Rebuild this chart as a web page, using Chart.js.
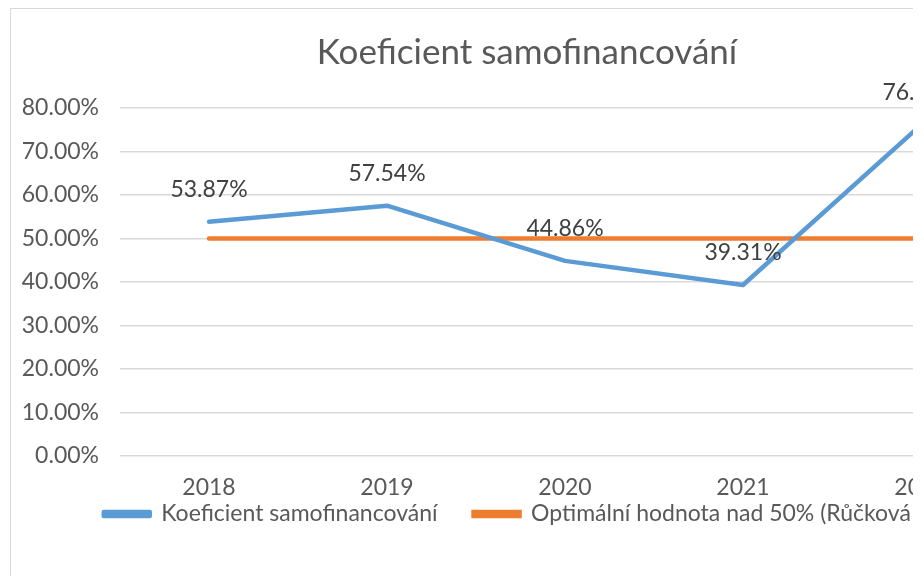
<!DOCTYPE html>
<html lang="cs">
<head>
    <meta charset="UTF-8">
    <title>Koeficient samofinancování</title>
    <script src="https://cdn.jsdelivr.net/npm/chart.js@4.4.0/dist/chart.umd.min.js"></script>
    <style>
        body {
            margin: 0;
            background: #fff;
            overflow: hidden;
            width: 924px;
            height: 576px;
        }
        .crop {
            position: absolute;
            left: 0;
            top: 0;
            width: 913px;
            height: 576px;
            overflow: hidden;
        }
        .chart-box {
            position: absolute;
            left: 10px;
            top: 8px;
            width: 1033px;
            height: 567px;
            border-left: 1px solid #d9d9d9;
            border-top: 1px solid #d9d9d9;
        }
    </style>
</head>
<body>
    <div class="crop">
        <div class="chart-box">
            <canvas id="chart" width="1033" height="567"></canvas>
        </div>
    </div>

    <script>
        const years = ['2018', '2019', '2020', '2021', '2022'];
        const koeficient = [53.87, 57.54, 44.86, 39.31, 76.13];
        const optimum = [50, 50, 50, 50, 50];

        const FONT = 'Lato, "Open Sans", sans-serif';

        // data labels above the blue line
        const pointLabels = {
            id: 'pointLabels',
            afterDatasetsDraw(chart) {
                const ctx = chart.ctx;
                const meta = chart.getDatasetMeta(0);
                ctx.save();
                ctx.font = '23px ' + FONT;
                ctx.fillStyle = '#404040';
                ctx.textAlign = 'center';
                ctx.textBaseline = 'middle';
                meta.data.forEach((pt, i) => {
                    ctx.fillText(koeficient[i].toFixed(2) + '%', pt.x, pt.y - 32);
                });
                ctx.restore();
            }
        };

        // nudge legend right, and widen the tick label boxes so they don't get clipped
        const layoutFix = {
            id: 'layoutFix',
            afterLayout(chart) {
                chart.legend.left += 13;
                chart.legend.right += 13;
                chart.scales.y.left = 0;
                chart.scales.x.bottom = chart.height;
            }
        };

        new Chart(document.getElementById('chart'), {
            type: 'line',
            data: {
                labels: years,
                datasets: [{
                    label: 'Koeficient samofinancování',
                    data: koeficient,
                    borderColor: '#5b9bd5',
                    backgroundColor: '#5b9bd5',
                    borderWidth: 4.5,
                    borderCapStyle: 'round',
                    borderJoinStyle: 'round',
                    pointRadius: 0,
                    tension: 0
                }, {
                    label: 'Optimální hodnota nad 50% (Růčková 2019)',
                    data: optimum,
                    borderColor: '#ed7d31',
                    backgroundColor: '#ed7d31',
                    borderWidth: 4.5,
                    borderCapStyle: 'round',
                    pointRadius: 0
                }]
            },
            options: {
                responsive: false,
                animation: false,
                layout: { padding: { left: 33, right: 34, top: 0, bottom: 40.5 } },
                scales: {
                    x: {
                        offset: true,
                        grid: { display: false },
                        border: { display: false },
                        ticks: { color: '#595959', font: { family: FONT, size: 23 }, padding: 10 },
                        // legend padding leaves room for the labels
                        afterFit: s => { s.height = 10.5; }
                    },
                    y: {
                        min: 0,
                        max: 80,
                        ticks: {
                            stepSize: 10,
                            color: '#595959',
                            font: { family: FONT, size: 23 },
                            padding: 21,
                            callback: v => v.toFixed(2) + '%'
                        },
                        grid: { color: '#d9d9d9', lineWidth: 1.5, drawTicks: false },
                        border: { display: false },
                        afterFit: s => { s.width = 76; }
                    }
                },
                plugins: {
                    title: {
                        display: true,
                        text: 'Koeficient samofinancování',
                        color: '#595959',
                        font: { family: FONT, size: 35, weight: 'normal' },
                        padding: { top: 23, bottom: 34 }
                    },
                    legend: {
                        position: 'bottom',
                        labels: {
                            color: '#595959',
                            font: { family: FONT, size: 23 },
                            boxWidth: 46,
                            boxHeight: 4,
                            padding: 36
                        }
                    },
                    tooltip: { enabled: false }
                }
            },
            plugins: [pointLabels, layoutFix]
        });
    </script>
</body>
</html>
